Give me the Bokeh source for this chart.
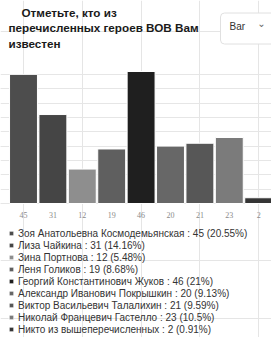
from bokeh.plotting import figure
from bokeh.models import (ColumnDataSource, Legend, LegendItem, Label, Grid,
                          SingleIntervalTicker, Range1d)
from bokeh.embed import file_html
from bokeh.resources import INLINE

names = ["Зоя Анатольевна Космодемьянская", "Лиза Чайкина", "Зина Портнова",
         "Леня Голиков", "Георгий Константинович Жуков",
         "Александр Иванович Покрышкин", "Виктор Васильевич Талалихин",
         "Николай Францевич Гастелло", "Никто из вышеперечисленных"]
counts = [45, 31, 12, 19, 46, 20, 21, 23, 2]
percents = ["20.55%", "14.16%", "5.48%", "8.68%", "21%", "9.13%", "9.59%",
            "10.5%", "0.91%"]
colors = ["#4d4d4d", "#454545", "#8e8e8e", "#5f5f5f", "#1f1f1f", "#676767",
          "#575757", "#7b7b7b", "#353535"]
title_lines = ["\u00a0\u00a0\u00a0\u00a0Отметьте, кто из",
               "перечисленных героев ВОВ Вам", "известен"]
selector_text = "Bar"
y_max = 46

# layout (pixels)
W, H = 271, 337
plot_top, plot_bottom = 71, 203      # page y of value y_max and 0
first_center, pitch = 23, 29.4       # page x of first bar centre, bar pitch

idx = list(range(len(names)))
labels = [f"{n} : {c} ({p})" for n, c, p in zip(names, counts, percents)]
source = ColumnDataSource(dict(i=idx, name=names, count=counts, color=colors,
                               base=[0] * len(names),
                               tick=[str(c) for c in counts]))

ppu = (plot_bottom - plot_top) / y_max
y_range = Range1d(-(H - plot_bottom) / ppu, y_max + plot_top / ppu)
x_range = Range1d(-first_center / pitch, (W - first_center) / pitch)

p = figure(width=W, height=H, output_backend="svg", toolbar_location=None,
           x_range=x_range, y_range=y_range,
           x_axis_location=None, y_axis_location=None,
           min_border=0)
p.outline_line_color = None

p.add_layout(Grid(dimension=1, ticker=SingleIntervalTicker(interval=5),
                  bounds=(0, 45), grid_line_color="#e6e6e6"))

r = p.vbar(x="i", top="count", width=0.95, source=source,
           fill_color="color", line_color="white", line_width=1)

p.text(x="i", y="base", text="tick", source=source, y_offset=11,
       text_font="Liberation Serif", text_font_size="8px",
       text_color="#8a8a8a", text_align="center", text_baseline="middle")

items = [LegendItem(label=lab, renderers=[r], index=i) for i, lab in enumerate(labels)]
legend = Legend(items=items, location=(8, 2), orientation="vertical",
                label_text_font="Liberation Sans", label_text_font_size="10px",
                label_text_color="#333333", glyph_width=6, glyph_height=6,
                label_standoff=4, spacing=0, padding=0, margin=0,
                label_height=12, border_line_color=None,
                background_fill_alpha=0)
p.add_layout(legend)

title = Label(x=8, y=H - 5, x_units="screen", y_units="screen",
              text="\n".join(title_lines), text_font="Liberation Sans",
              text_font_size="11.7px", text_font_style="bold",
              text_color="#1a1a1a", text_baseline="top", text_align="left",
              text_line_height=1.2)
p.add_layout(title)

box = Label(x=220, y=H - 28, x_units="screen", y_units="screen",
            text=selector_text, text_font="Liberation Sans",
            text_font_size="10px", text_color="#333333",
            text_baseline="middle", text_align="left",
            background_fill_color="white", border_line_color="#e0e0e0",
            padding=(9, 40, 8, 12), border_radius=4)
p.add_layout(box)
chev = Label(x=261, y=H - 23, x_units="screen", y_units="screen", text="⌄",
             text_font="DejaVu Sans", text_font_size="10px",
             text_color="#666666", text_baseline="middle", text_align="center")
p.add_layout(chev)

open("out.html", "w").write(file_html(p, INLINE))
